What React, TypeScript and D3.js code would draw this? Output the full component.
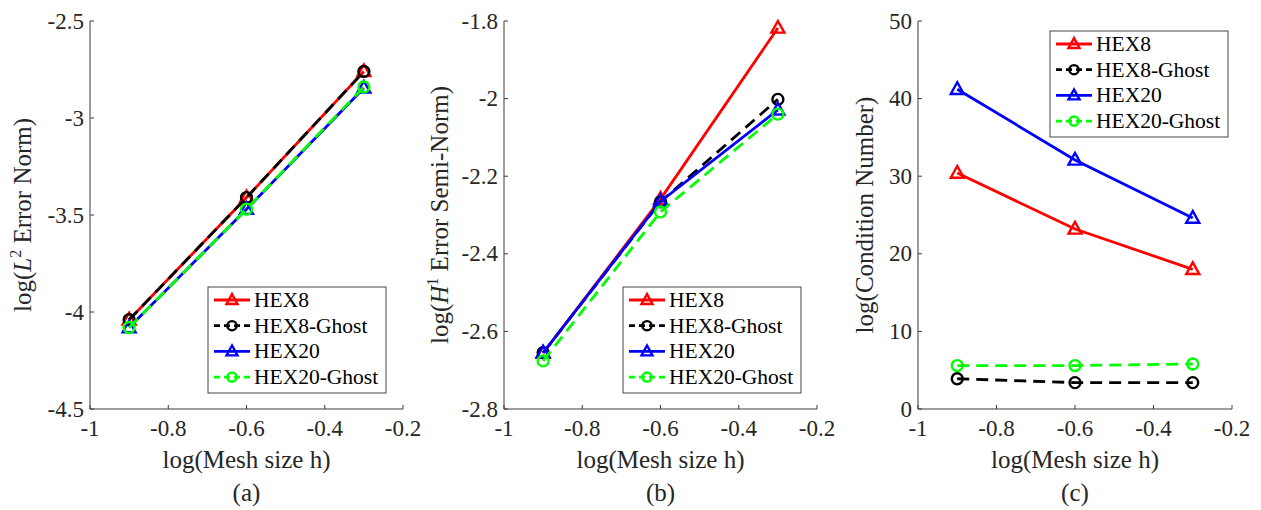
import React from "react";
import * as d3 from "d3";

// mesh sizes (log) shared by all three panels
const meshSize = [-0.9, -0.6, -0.3];

// (a) L2 error norm
const l2Hex8 = [-4.04, -3.41, -2.76];
const l2Hex8Ghost = [-4.04, -3.41, -2.76];
const l2Hex20 = [-4.08, -3.47, -2.845];
const l2Hex20Ghost = [-4.08, -3.47, -2.84];

// (b) H1 error semi-norm
const h1Hex8 = [-2.656, -2.259, -1.818];
const h1Hex8Ghost = [-2.655, -2.266, -2.002];
const h1Hex20 = [-2.655, -2.265, -2.029];
const h1Hex20Ghost = [-2.676, -2.292, -2.04];

// (c) condition number
const condHex8 = [30.4, 23.2, 18.0];
const condHex8Ghost = [3.9, 3.4, 3.4];
const condHex20 = [41.2, 32.1, 24.6];
const condHex20Ghost = [5.6, 5.6, 5.8];

const seriesNames = ["HEX8", "HEX8-Ghost", "HEX20", "HEX20-Ghost"];
const xTicks = [-1, -0.8, -0.6, -0.4, -0.2];
const xTickLabels = ["-1", "-0.8", "-0.6", "-0.4", "-0.2"];
const l2Ticks = [-4.5, -4, -3.5, -3, -2.5];
const h1Ticks = [-2.8, -2.6, -2.4, -2.2, -2, -1.8];
const condTicks = [0, 10, 20, 30, 40, 50];

const styles = [
	{ color: "#ff0000", dash: null, marker: "tri" },
	{ color: "#000000", dash: "12,7", marker: "circ" },
	{ color: "#0000ff", dash: null, marker: "tri" },
	{ color: "#00ff00", dash: "12,7", marker: "circ" },
];

const FONT = "Liberation Serif";
const AXIS = "#3a3a3a";
const TEXT = "#262626";
const TOP = 21, BOTTOM = 409;

const panels = [
	{
		key: "a", x0: 90, x1: 403, domain: [-4.5, -2.5], ticks: l2Ticks,
		data: [l2Hex8, l2Hex8Ghost, l2Hex20, l2Hex20Ghost],
		ylabelX: 31, legend: { x: 208, y: 287 },
		ylabel: (
			<>
				<tspan>log(</tspan>
				<tspan fontStyle="italic">L</tspan>
				<tspan fontSize={16} dy={-10}>2</tspan>
				<tspan dy={10}> Error Norm)</tspan>
			</>
		),
	},
	{
		key: "b", x0: 504, x1: 817, domain: [-2.8, -1.8], ticks: h1Ticks,
		data: [h1Hex8, h1Hex8Ghost, h1Hex20, h1Hex20Ghost],
		ylabelX: 448, legend: { x: 623, y: 287 },
		ylabel: (
			<>
				<tspan>log(</tspan>
				<tspan fontStyle="italic">H</tspan>
				<tspan fontSize={16} dy={-10}>1</tspan>
				<tspan dy={10}> Error Semi-Norm)</tspan>
			</>
		),
	},
	{
		key: "c", x0: 918, x1: 1232, domain: [0, 50], ticks: condTicks,
		data: [condHex8, condHex8Ghost, condHex20, condHex20Ghost],
		ylabelX: 873, legend: { x: 1050, y: 31 },
		ylabel: <tspan>log(Condition Number)</tspan>,
	},
];

function Marker({ type, x, y, color, size, sw }: any) {
	if (type === "tri") {
		const s = size;
		const h = s * 0.9;
		const pts = `${x},${y - h * 0.6} ${x - s / 2},${y + h * 0.4} ${x + s / 2},${y + h * 0.4}`;
		return <polygon points={pts} fill="none" stroke={color} strokeWidth={sw} strokeLinejoin="miter" />;
	}
	return <circle cx={x} cy={y} r={size * 0.42} fill="none" stroke={color} strokeWidth={sw} />;
}

function Panel({ p }: any) {
	const x = d3.scaleLinear().domain([-1, -0.2]).range([p.x0, p.x1]);
	const y = d3.scaleLinear().domain(p.domain).range([BOTTOM, TOP]);
	const line = d3.line<number>()
		.x((d, i) => x(meshSize[i]))
		.y((d) => y(d));
	const cx = (p.x0 + p.x1) / 2;
	const cy = (TOP + BOTTOM) / 2;
	const fmt = (v: number) => String(Math.round(v * 10) / 10);

	return (
		<g>
			{/* axes */}
			<line x1={p.x0} x2={p.x1} y1={BOTTOM} y2={BOTTOM} stroke={AXIS} strokeWidth={1} />
			<line x1={p.x0} x2={p.x0} y1={TOP} y2={BOTTOM} stroke={AXIS} strokeWidth={1} />
			{xTicks.map((t, i) => (
				<g key={"x" + i}>
					<line x1={x(t)} x2={x(t)} y1={BOTTOM} y2={BOTTOM - 4} stroke={AXIS} />
					<text x={x(t)} y={436} textAnchor="middle" fontSize={23} fontFamily={FONT} fill={TEXT}>{xTickLabels[i]}</text>
				</g>
			))}
			{p.ticks.map((t: number, i: number) => (
				<g key={"y" + i}>
					<line x1={p.x0} x2={p.x0 + 4} y1={y(t)} y2={y(t)} stroke={AXIS} />
					<text x={p.x0 - 6} y={y(t) + 7.5} textAnchor="end" fontSize={23} fontFamily={FONT} fill={TEXT}>{fmt(t)}</text>
				</g>
			))}
			<text x={cx} y={468} textAnchor="middle" fontSize={25} fontFamily={FONT} fill={TEXT}>log(Mesh size h)</text>
			<text x={cx} y={501} textAnchor="middle" fontSize={25} fontFamily={FONT} fill={TEXT}>({p.key})</text>
			<text transform={`translate(${p.ylabelX},${cy}) rotate(-90)`} textAnchor="middle" fontSize={25} fontFamily={FONT} fill={TEXT}>
				{p.ylabel}
			</text>

			{/* series */}
			{p.data.map((vals: number[], si: number) => {
				const st = styles[si];
				return (
					<g key={"s" + si}>
						<path d={line(vals) || ""} fill="none" stroke={st.color} strokeWidth={2.8}
							strokeDasharray={st.dash || undefined} />
						{vals.map((v, i) => (
							<Marker key={i} type={st.marker} x={x(meshSize[i])} y={y(v)} color={st.color} size={13} sw={2.4} />
						))}
					</g>
				);
			})}

			{/* legend */}
			<rect x={p.legend.x} y={p.legend.y} width={178} height={106} fill="#ffffff" stroke="#444444" strokeWidth={1} />
			{seriesNames.map((name, i) => {
				const st = styles[i];
				const ly = p.legend.y + 13 + i * 25.7;
				const lx = p.legend.x + 6;
				return (
					<g key={"l" + i}>
						<line x1={lx} x2={lx + 36} y1={ly} y2={ly} stroke={st.color} strokeWidth={2.8}
							strokeDasharray={st.dash ? "6,4" : undefined} />
						<Marker type={st.marker} x={lx + 18} y={ly} color={st.color} size={11} sw={2.4} />
						<text x={lx + 40} y={ly + 7} fontSize={21.5} fontFamily={FONT} fill="#000000">{name}</text>
					</g>
				);
			})}
		</g>
	);
}

export default function App() {
	return (
		<svg width={1261} height={510} style={{ position: "absolute", left: 0, top: 0, background: "#ffffff" }}>
			<rect width={1261} height={510} fill="#ffffff" />
			{panels.map((p) => <Panel key={p.key} p={p} />)}
		</svg>
	);
}
